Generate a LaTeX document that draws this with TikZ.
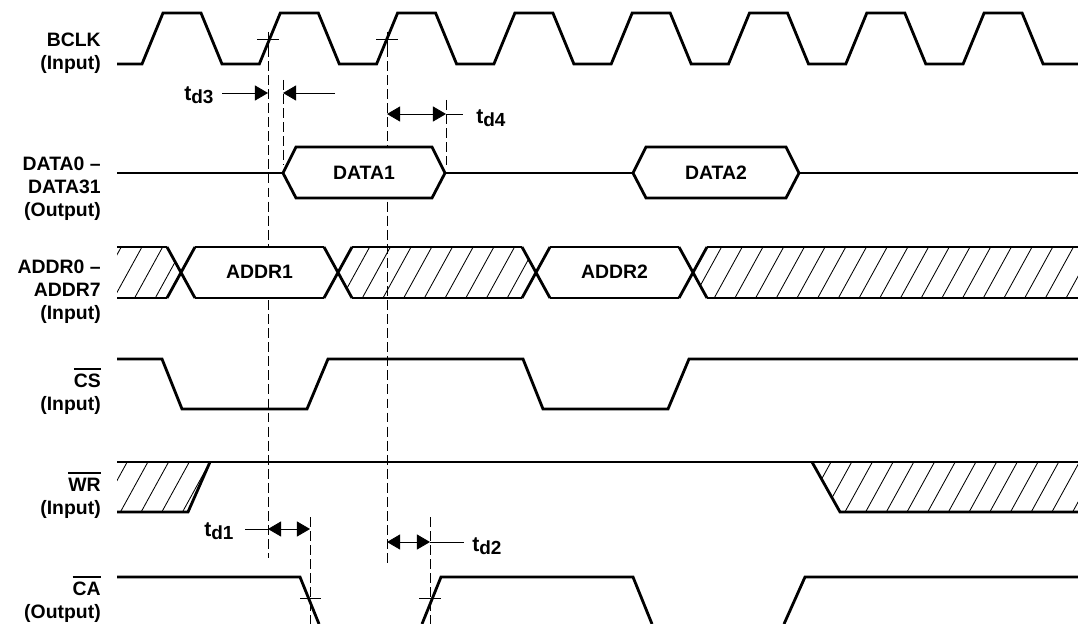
\documentclass[tikz,border=0pt]{standalone}
\usepackage{fontspec}
\setmainfont{Liberation Sans}
\usetikzlibrary{arrows.meta}

\newsavebox\ovlbox
\newcommand{\ovl}[1]{\sbox\ovlbox{#1}\rlap{\rule[\dimexpr\ht\ovlbox+2.8pt\relax]{\wd\ovlbox}{1.4pt}}\usebox\ovlbox}
\newcommand{\tdel}[1]{\fontsize{15}{17}\selectfont t\raisebox{-2.4pt}{\fontsize{13.5}{15}\selectfont #1}}

\begin{document}
\begin{tikzpicture}[
        x=0.025cm, y=-0.025cm,
        signal/.style={line width=2pt},
        guide/.style={line width=0.6pt, dash pattern=on 7pt off 3pt},
        tick/.style={line width=0.6pt},
        hatch/.style={line width=0.6pt},
        dim/.style={line width=0.6pt},
        lbl/.style={
            align=right, anchor=north east, inner sep=0pt,
            font=\bfseries\fontsize{13.8}{16.3}\selectfont
        },
        bus/.style={inner sep=0pt, font=\bfseries\fontsize{13.8}{16.3}\selectfont},
        tlab/.style={anchor=west, inner sep=0pt, font=\bfseries},
        >={Triangle[length=0.33cm,width=0.38cm]},
    ]
    \useasboundingbox (0,0) rectangle (1078,624);

    % Signal names
    \node [lbl] (lclk) at (101,33) {BCLK\\(Input)};
    \node [lbl] (ldata) at (101,157) {DATA0 –\\DATA31\\(Output)};
    \node [lbl] (laddr) at (101,260) {ADDR0 –\\ADDR7\\(Input)};
    \node [lbl] (lcs) at (101,368) {\ovl{CS}\\(Input)};
    \node [lbl] (lwr) at (101,472) {\ovl{WR}\\(Input)};
    \node [lbl] (lca) at (101,576) {\ovl{CA}\\(Output)};

    % Hatched (don't care) areas
    \begin{scope}
        \clip (117,247) -- (167,247) -- (181,272) -- (167,298) -- (117,298) -- cycle
              (338,272) -- (352,247) -- (522,247) -- (536,272) -- (522,298) -- (352,298) -- cycle
              (693,272) -- (707,247) -- (1078,247) -- (1078,298) -- (707,298) -- cycle
              (117,462) -- (210,462) -- (188,512) -- (117,512) -- cycle
              (812,462) -- (1078,462) -- (1078,512) -- (840,512) -- cycle;
        \foreach \x in {-200,-179.3,...,1100}
            \draw [hatch] (\x,530) -- ++(165,-300);
    \end{scope}

    % Reference lines and marks
    \draw [tick] (257,39) -- (279,39) (268,32) -- (268,47);
    \draw [tick] (376,39) -- (398,39) (387,32) -- (387,47);
    \draw [tick] (300,598) -- (321,598);
    \draw [tick] (419,598) -- (441,598);
    \draw [guide] (268,47) -- (268,558);
    \draw [guide] (387,47) -- (387,567);
    \draw [guide] (283,80) -- (283,165);
    \draw [guide] (446,100) -- (446,165);
    \draw [guide] (310,517) -- (310,624);
    \draw [guide] (430,517) -- (430,624);

    % BCLK
    \draw [signal] (117,64)
        \foreach \k in {0,...,7} { -- ({142+117.3*\k},64) -- ++(21,-51) -- ++(38,0) -- ++(21,51) }
        -- (1078,64);

    % DATA bus
    \draw [signal] (117,173) -- (283,173);
    \draw [signal, fill=white] (283,173) -- (296,147) -- (432,147) -- (445,173)
        -- (432,198) -- (296,198) -- cycle;
    \draw [signal] (445,173) -- (633,173);
    \draw [signal, fill=white] (633,173) -- (646,147) -- (786,147) -- (799,173)
        -- (786,198) -- (646,198) -- cycle;
    \draw [signal] (799,173) -- (1078,173);
    \node [bus] (data1) at (364,173) {DATA1};
    \node [bus] (data2) at (716,173) {DATA2};

    % ADDR bus
    \fill [white] (181,272) -- (195,247) -- (324,247) -- (338,272) -- (324,298) -- (195,298) -- cycle;
    \fill [white] (536,272) -- (550,247) -- (679,247) -- (693,272) -- (679,298) -- (550,298) -- cycle;
    \foreach \c in {181,338,536,693} {
        \draw [signal] (\c-14,247) -- (\c+14,298);
        \draw [signal] (\c-14,298) -- (\c+14,247);
    }
    \draw [signal] (117,247) -- (167,247) (195,247) -- (324,247) (352,247) -- (522,247)
        (550,247) -- (679,247) (707,247) -- (1078,247);
    \draw [signal] (117,298) -- (167,298) (195,298) -- (324,298) (352,298) -- (522,298)
        (550,298) -- (679,298) (707,298) -- (1078,298);
    \node [bus] (addr1) at (259.5,272) {ADDR1};
    \node [bus] (addr2) at (614.5,272) {ADDR2};

    % CS
    \draw [signal] (117,359) -- (162,359) -- (182,409) -- (307,409) -- (328,359)
        -- (523,359) -- (543,409) -- (668,409) -- (689,359) -- (1078,359);

    % WR
    \draw [signal] (117,462) -- (1078,462);
    \draw [signal] (117,512) -- (188,512) -- (210,462);
    \draw [signal] (812,462) -- (840,512) -- (1078,512);

    % CA
    \draw [signal] (117,577) -- (300,577) -- (319,624);
    \draw [signal] (422,624) -- (441,577) -- (633,577) -- (652,624);
    \draw [signal] (784,624) -- (805,577) -- (1078,577);

    % Delay times
    \node [tlab] (td3) at (184,95.5) {\tdel{d3}};
    \node [tlab] (td4) at (476,118.5) {\tdel{d4}};
    \node [tlab] (td1) at (204,531.5) {\tdel{d1}};
    \node [tlab] (td2) at (472,546) {\tdel{d2}};
    \draw [dim, ->] (222,93) -- (268,93);
    \draw [dim, ->] (335,93) -- (283,93);
    \draw [dim, <->] (387,114) -- (446,114);
    \draw [dim] (446,114) -- (463,114);
    \draw [dim] (245,529) -- (268,529);
    \draw [dim, <->] (268,529) -- (310,529);
    \draw [dim, <->] (387,542) -- (430,542);
    \draw [dim] (430,542) -- (464,542);
\end{tikzpicture}
\end{document}
